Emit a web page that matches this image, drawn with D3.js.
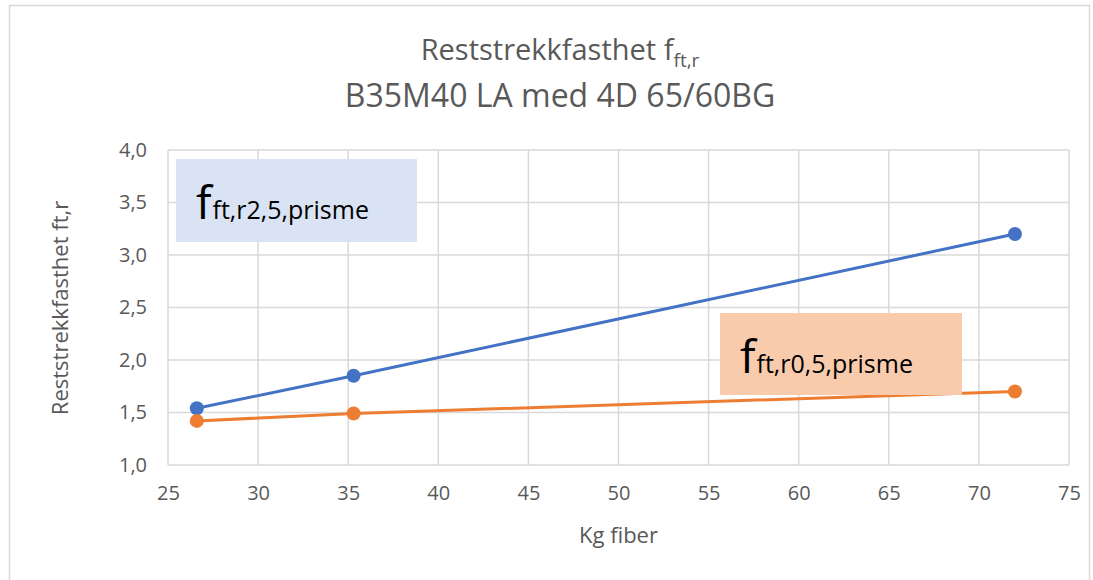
<!DOCTYPE html>
<html>
<head>
<meta charset="utf-8">
<script src="https://cdn.jsdelivr.net/npm/d3@7"></script>
<style>
  body { margin: 0; background: #fff; }
  text { font-family: "Open Sans", "Liberation Sans", sans-serif; }
</style>
</head>
<body>
<div id="chart"></div>
<script>
// Data
var kgFiber = [26.6, 35.3, 72];
var fR25 = [1.54, 1.85, 3.2];   // f_ft,r2,5,prisme
var fR05 = [1.42, 1.49, 1.70];  // f_ft,r0,5,prisme
var xTicks = [25, 30, 35, 40, 45, 50, 55, 60, 65, 70, 75];
var yTicks = [1.0, 1.5, 2.0, 2.5, 3.0, 3.5, 4.0];

var width = 1093, height = 580;
var plot = { left: 168, right: 1069, top: 150, bottom: 465 };

var svg = d3.select('#chart').append('svg')
	.attr('width', width)
	.attr('height', height);

// outer chart frame
svg.append('rect')
	.attr('x', 9.5).attr('y', 5.5)
	.attr('width', 1080).attr('height', 600)
	.attr('fill', '#fff')
	.attr('stroke', '#d9d9d9')
	.attr('stroke-width', 1.5);

var x = d3.scaleLinear().domain([25, 75]).range([plot.left, plot.right]);
var y = d3.scaleLinear().domain([1, 4]).range([plot.bottom, plot.top]);

// gridlines
svg.append('g').selectAll('line').data(xTicks).enter().append('line')
	.attr('x1', function(d) { return x(d); }).attr('x2', function(d) { return x(d); })
	.attr('y1', plot.top).attr('y2', plot.bottom)
	.attr('stroke', '#d9d9d9').attr('stroke-width', 1.5);

svg.append('g').selectAll('line').data(yTicks).enter().append('line')
	.attr('x1', plot.left).attr('x2', plot.right)
	.attr('y1', function(d) { return y(d); }).attr('y2', function(d) { return y(d); })
	.attr('stroke', '#d9d9d9').attr('stroke-width', 1.5);

// axes (labels only)
var fmt = function(d) { return d3.format('.1f')(d).replace('.', ','); };

var xAxis = svg.append('g')
	.attr('transform', 'translate(0,' + plot.bottom + ')')
	.call(d3.axisBottom(x).tickValues(xTicks).tickSize(0).tickPadding(21));
var yAxis = svg.append('g')
	.attr('transform', 'translate(' + plot.left + ',0)')
	.call(d3.axisLeft(y).tickValues(yTicks).tickFormat(fmt).tickSize(0).tickPadding(21));

[xAxis, yAxis].forEach(function(a) {
	a.select('.domain').remove();
	a.selectAll('text')
		.attr('fill', '#595959')
		.style('font-size', '20px')
		.style('font-family', '"Open Sans", sans-serif');
});

// annotation boxes
function labelBox(x0, y0, w, h, fill, sub) {
	var g = svg.append('g');
	g.append('rect')
		.attr('x', x0).attr('y', y0).attr('width', w).attr('height', h)
		.attr('fill', fill);
	var t = g.append('text')
		.attr('x', x0 + 20).attr('y', y0 + 60)
		.attr('fill', '#000');
	t.append('tspan').style('font-size', '46px').text('f');
	t.append('tspan').style('font-size', '25px').attr('dx', 1).text(sub);
}
labelBox(176, 159, 241, 83, '#dae3f3', 'ft,r2,5,prisme');

// series
var line = d3.line()
	.x(function(d) { return x(d[0]); })
	.y(function(d) { return y(d[1]); });

function drawSeries(vals, color) {
	var pts = d3.zip(kgFiber, vals);
	svg.append('path')
		.datum(pts)
		.attr('d', line)
		.attr('fill', 'none')
		.attr('stroke', color)
		.attr('stroke-width', 3);
	svg.append('g').selectAll('circle').data(pts).enter().append('circle')
		.attr('cx', function(d) { return x(d[0]); })
		.attr('cy', function(d) { return y(d[1]); })
		.attr('r', 7)
		.attr('fill', color);
}
drawSeries(fR25, '#4472c4');
drawSeries(fR05, '#ed7d31');

// orange box sits on top of the orange line
labelBox(720, 313, 242, 82, '#f8cbad', 'ft,r0,5,prisme');

// titles
var title = svg.append('text')
	.attr('x', 560).attr('y', 60)
	.attr('text-anchor', 'middle')
	.attr('fill', '#595959');
title.append('tspan').style('font-size', '29px').text('Reststrekkfasthet f');
title.append('tspan').style('font-size', '19px').attr('dy', 7).text('ft,r');

svg.append('text')
	.attr('x', 560).attr('y', 107)
	.attr('text-anchor', 'middle')
	.attr('fill', '#595959')
	.style('font-size', '32px')
	.text('B35M40 LA med 4D 65/60BG');

svg.append('text')
	.attr('transform', 'translate(68,308) rotate(-90)')
	.attr('text-anchor', 'middle')
	.attr('fill', '#595959')
	.style('font-size', '22px')
	.text('Reststrekkfasthet ft,r');

svg.append('text')
	.attr('x', x(50)).attr('y', 543)
	.attr('text-anchor', 'middle')
	.attr('fill', '#595959')
	.style('font-size', '22px')
	.text('Kg fiber');
</script>
</body>
</html>
